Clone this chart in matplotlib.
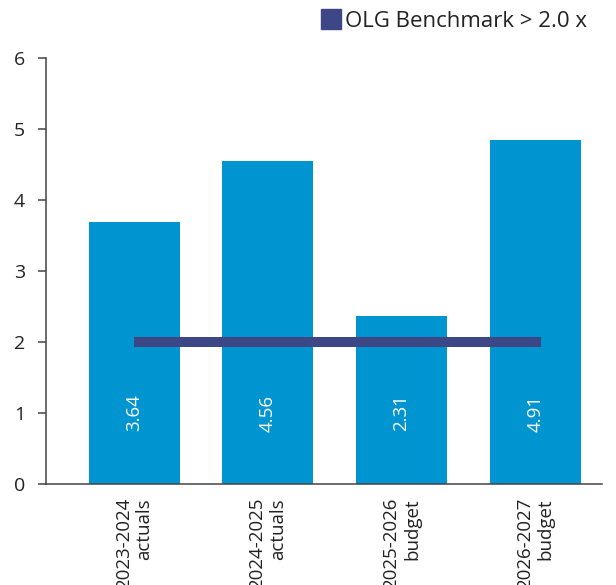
import matplotlib
matplotlib.use("Agg")
import matplotlib.pyplot as plt
from matplotlib.lines import Line2D

plt.rcParams['font.family'] = ['Open Sans', 'DejaVu Sans']

categories = ["2023-2024\nactuals", "2024-2025\nactuals", "2025-2026\nbudget", "2026-2027\nbudget"]
bar_heights = [3.69, 4.55, 2.37, 4.85]
value_labels = ["3.64", "4.56", "2.31", "4.91"]
benchmark = 2.0
benchmark_label = "OLG Benchmark > 2.0 x"
y_ticks = [0, 1, 2, 3, 4, 5, 6]

bar_color = "#0094d0"
bench_color = "#3d4785"
text_color = "#222222"

fig = plt.figure(figsize=(6.16, 5.85), dpi=100)
ax = fig.add_axes([46/616, (585-484)/585, (602-46)/616, (484-58)/585])

x = list(range(len(categories)))
ax.bar(x, bar_heights, width=0.68, color=bar_color, zorder=2)
for xi, lab in zip(x, value_labels):
    ax.text(xi, 1.0, lab, rotation=90, ha='center', va='center',
            color='white', fontsize=13.5, zorder=4)

ax.hlines(benchmark, x[0], x[-1] + 0.04, color=bench_color, linewidth=7.2, zorder=3)

ax.set_xlim(-0.66, 3.5)
ax.set_ylim(0, 6)
ax.set_yticks(y_ticks)
ax.set_yticklabels([str(v) for v in y_ticks], fontsize=14, color=text_color)
ax.set_xticks(x)
ax.set_xticklabels(categories, rotation=90, fontsize=13.5, color=text_color,
                   va='top', ha='center', multialignment='right')
ax.tick_params(axis='x', length=0, pad=10)
ax.tick_params(axis='y', length=6, width=1.1, color='#444444', pad=9)

for s in ['top', 'right']:
    ax.spines[s].set_visible(False)
for s in ['left', 'bottom']:
    ax.spines[s].set_color('#444444')
    ax.spines[s].set_linewidth(1.1)

handle = Line2D([], [], marker='s', linestyle='none', markersize=15,
                markerfacecolor=bench_color, markeredgecolor=bench_color)
leg = fig.legend([handle], [benchmark_label], loc='upper right',
                 bbox_to_anchor=(594/616, 1 - 4/585), frameon=False,
                 fontsize=16, handletextpad=0.15, handlelength=1.0,
                 borderaxespad=0, borderpad=0.3)
for t in leg.get_texts():
    t.set_color(text_color)

fig.savefig("out.png", dpi=100)
